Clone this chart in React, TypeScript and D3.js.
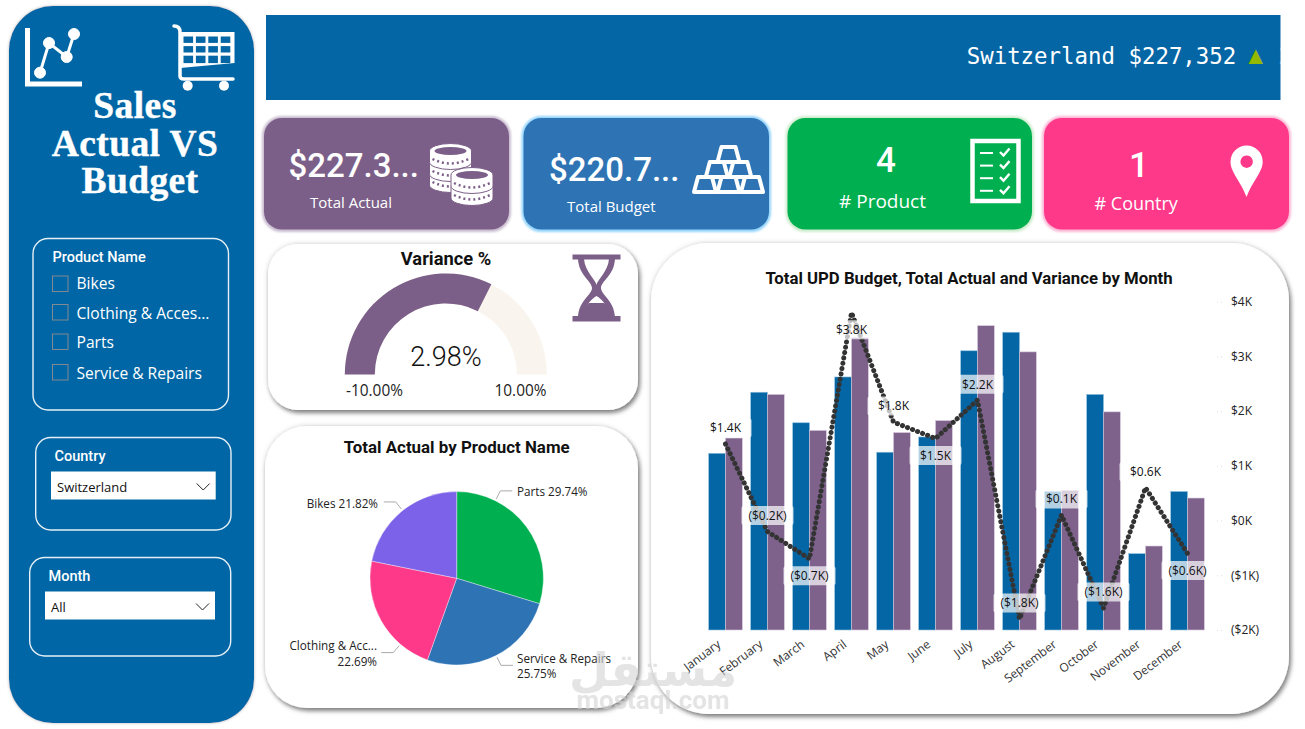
import { useEffect, useRef } from 'react';
import * as d3 from 'd3';

const months = ['January', 'February', 'March', 'April', 'May', 'June', 'July', 'August', 'September', 'October', 'November', 'December'];
// $K
const budgetValues = [16.2, 21.8, 19.0, 23.2, 16.3, 17.7, 25.6, 27.3, 12.7, 21.6, 7.0, 12.7];
const actualValues = [17.6, 21.6, 18.3, 26.8, 18.1, 19.2, 27.9, 25.5, 12.8, 20.0, 7.7, 12.1];
const varianceValues = [1.4, -0.2, -0.7, 3.8, 1.8, 1.5, 2.2, -1.8, 0.1, -1.6, 0.6, -0.6];
const varianceTicks = [-2, -1, 0, 1, 2, 3, 4];
const monthsLabelledBelow = ['March', 'April', 'June', 'December'];

const products = ['Parts', 'Service & Repairs', 'Clothing & Acc...', 'Bikes'];
const productShares = [29.74, 25.75, 22.69, 21.82];
const productColors = ['#00B050', '#2E74B5', '#FE398A', '#7B62E8'];

const sliderProducts = ['Bikes', 'Clothing & Acces...', 'Parts', 'Service & Repairs'];

const variancePct = 2.98;
const gaugeMin = -10;
const gaugeMax = 10;

const BLUE = '#0566A5';
const PURPLE = '#7C5F88';
const din = 'Roboto, sans-serif';
const segoe = "'Open Sans', sans-serif";

const moneyK = (v: number, digits: number) => {
  const s = `$${Math.abs(v).toFixed(digits)}K`;
  return v < 0 ? `(${s})` : s;
};

// where the leader lines leave the pie and where their texts sit
const pieLayout = [
  { angle: 26.5, x: 517, baselines: [496], anchor: 'start', twoLines: false },
  { angle: 153, x: 517, baselines: [663, 678], anchor: 'start', twoLines: true },
  { angle: 220.5, x: 377, baselines: [650, 666], anchor: 'end', twoLines: true },
  { angle: 321.4, x: 378, baselines: [508], anchor: 'end', twoLines: false },
];

const Card = ({ x, w, fill, glow }: { x: number; w: number; fill: string; glow: string }) => (
  <g>
    <rect x={x - 1} y={117} width={w + 2} height={114} rx={19} fill={glow} stroke={glow} strokeWidth={2} filter="url(#glow)" />
    <rect x={x} y={118} width={w} height={111.5} rx={18} fill={fill} />
  </g>
);

const Coin = ({ cx, y, fill, top }: { cx: number; y: number; fill: string; top?: boolean }) => (
  <g>
    <path d={`M${cx - 21},${y} A21,7.5 0 0 1 ${cx + 21},${y} V${y + 11} A21,7.5 0 0 1 ${cx - 21},${y + 11} Z`} fill="#fff" stroke={fill} strokeWidth={1} />
    <path d={`M${cx - 18},${y + 8} Q${cx},${y + 17} ${cx + 18},${y + 8}`} fill="none" stroke={fill} strokeWidth={2.5} strokeDasharray="2 3" />
    {top && <ellipse cx={cx} cy={y} rx={16} ry={4} fill={fill} />}
  </g>
);

const GoldBar = ({ x, y }: { x: number; y: number }) => (
  <path d={`M${x + 4},${y} h14 l4,15 h-22 Z`} fill="#2E74B5" stroke="#fff" strokeWidth={4} strokeLinejoin="round" />
);

const Slicer = ({ x, y, w, h, title, titleX, titleY }: { x: number; y: number; w: number; h: number; title: string; titleX: number; titleY: number }) => (
  <g>
    <rect x={x} y={y} width={w} height={h} rx={15} fill="none" stroke="#fff" strokeWidth={1.4} opacity={0.9} />
    <text x={titleX} y={titleY} fill="#fff" fontFamily={din} fontWeight={500} fontSize={14.5}>{title}</text>
  </g>
);

const Dropdown = ({ x, y, w, value }: { x: number; y: number; w: number; value: string }) => (
  <g>
    <rect x={x} y={y} width={w} height={28} fill="#fff" />
    <text x={x + 6} y={y + 20.5} fontFamily={segoe} fontSize={13} fill="#111">{value}</text>
    <path d={`M${x + w - 19},${y + 12} l6.5,6.5 l6.5,-6.5`} fill="none" stroke="#222" strokeWidth={1} />
  </g>
);

const App = () => {
  const comboRef = useRef<SVGGElement | null>(null);
  const pieRef = useRef<SVGGElement | null>(null);
  const gaugeRef = useRef<SVGGElement | null>(null);

  useEffect(() => {
    if (!comboRef.current) return;
    const g = d3.select(comboRef.current);
    g.selectAll('*').remove();

    const x = d3.scaleBand<string>().domain(months).range([704.5, 1208.5]).paddingInner(0.2).paddingOuter(0.1);
    const xGroup = d3.scaleBand<string>().domain(['budget', 'actual']).range([0, x.bandwidth()]);
    const yBar = d3.scaleLinear().domain([0, 30]).range([630, 302.8]);
    const yVar = d3.scaleLinear().domain([-2, 4]).range([630, 301.7]);
    const cx = (m: string) => (x(m) as number) + x.bandwidth() / 2;

    [{ key: 'budget', vals: budgetValues, color: BLUE, edge: '#8fc0de' }, { key: 'actual', vals: actualValues, color: '#7E628C', edge: '#d5c8dc' }].forEach(s => {
      g.append('g').selectAll('rect')
        .data(s.vals)
        .enter()
        .append('rect')
        .attr('x', (_, i) => (x(months[i]) as number) + (xGroup(s.key) as number))
        .attr('y', d => yBar(d))
        .attr('width', xGroup.bandwidth())
        .attr('height', d => 630 - yBar(d))
        .attr('fill', s.color)
        .attr('stroke', s.edge)
        .attr('stroke-width', 0.6);
    });

    const line = d3.line<number>()
      .x((_, i) => cx(months[i]))
      .y(d => yVar(d));

    g.append('path')
      .datum(varianceValues)
      .attr('fill', 'none')
      .attr('stroke', '#333')
      .attr('stroke-width', 5)
      .attr('stroke-linecap', 'round')
      .attr('stroke-dasharray', '0.1 5.3')
      .attr('d', line);

    // data labels sit over the line, on a washed out plate
    const labels = g.append('g').selectAll('g')
      .data(varianceValues)
      .enter()
      .append('g')
      .attr('transform', (d, i) => {
        const below = monthsLabelledBelow.includes(months[i]);
        return `translate(${cx(months[i])},${yVar(d) + (below ? 17 : -16)})`;
      });

    labels.append('rect')
      .attr('x', -26)
      .attr('y', -9.5)
      .attr('width', 52)
      .attr('height', 19)
      .attr('rx', 2)
      .attr('fill', '#fff')
      .attr('opacity', 0.7);

    labels.append('text')
      .attr('text-anchor', 'middle')
      .attr('dy', '0.36em')
      .style('font-family', segoe)
      .style('font-size', '12px')
      .style('fill', '#111')
      .text(d => moneyK(d, 1));

    const axisR = g.append('g')
      .attr('transform', 'translate(1217,0)')
      .call(d3.axisRight(yVar).tickValues(varianceTicks).tickSize(8).tickPadding(6).tickFormat(d => moneyK(d as number, 0)));
    axisR.select('.domain').remove();
    axisR.selectAll('.tick line').attr('stroke', '#ddd').attr('stroke-dasharray', '1 3');
    axisR.selectAll('text').style('font-family', segoe).style('font-size', '12px').style('fill', '#222');

    const axisB = g.append('g')
      .attr('transform', 'translate(0,630)')
      .call(d3.axisBottom(x).tickSize(0).tickPadding(0));
    axisB.select('.domain').remove();
    axisB.selectAll('text')
      .attr('text-anchor', 'end')
      .attr('transform', 'translate(-4,16) rotate(-37)')
      .attr('y', 0)
      .attr('dy', 0)
      .style('font-family', segoe)
      .style('font-size', '12px')
      .style('fill', '#333');
  }, []);

  useEffect(() => {
    if (!pieRef.current) return;
    const g = d3.select(pieRef.current);
    g.selectAll('*').remove();

    const cx = 456.7;
    const cy = 578.3;
    const R = 86.7;
    const pie = d3.pie<number>().sort(null).value(d => d);
    const arc = d3.arc<d3.PieArcDatum<number>>().innerRadius(0).outerRadius(R);

    g.append('g')
      .attr('transform', `translate(${cx},${cy})`)
      .selectAll('path')
      .data(pie(productShares))
      .enter()
      .append('path')
      .attr('d', arc)
      .attr('fill', (_, i) => productColors[i])
      .attr('stroke', '#fff')
      .attr('stroke-opacity', 0.6)
      .attr('stroke-width', 0.6);

    pieLayout.forEach((l, i) => {
      const a = (l.angle * Math.PI) / 180;
      const [x0, y0] = d3.pointRadial(a, R + 2);
      const [x1, y1] = d3.pointRadial(a, R + 11);
      const dir = l.anchor === 'start' ? 1 : -1;
      g.append('path')
        .attr('d', `M${cx + x0},${cy + y0}L${cx + x1},${cy + y1}h${dir * 12}`)
        .attr('fill', 'none')
        .attr('stroke', '#aaa')
        .attr('stroke-width', 1);

      const pct = `${productShares[i].toFixed(2)}%`;
      const lines = l.twoLines ? [products[i], pct] : [`${products[i]} ${pct}`];
      lines.forEach((t, j) => {
        g.append('text')
          .attr('x', l.x)
          .attr('y', l.baselines[j])
          .attr('text-anchor', l.anchor)
          .style('font-family', segoe)
          .style('font-size', '11.7px')
          .style('fill', '#222')
          .text(t);
      });
    });
  }, []);

  useEffect(() => {
    if (!gaugeRef.current) return;
    const g = d3.select(gaugeRef.current);
    g.selectAll('*').remove();

    const angle = d3.scaleLinear().domain([gaugeMin, gaugeMax]).range([-Math.PI / 2, Math.PI / 2]);
    const arc = d3.arc<{ from: number; to: number }>()
      .innerRadius(71)
      .outerRadius(101)
      .startAngle(d => angle(d.from))
      .endAngle(d => angle(d.to));

    const root = g.append('g').attr('transform', 'translate(445.8,374.5)');
    root.append('path').attr('d', arc({ from: gaugeMin, to: gaugeMax })).attr('fill', '#F9F5EE');
    root.append('path').attr('d', arc({ from: gaugeMin, to: variancePct })).attr('fill', PURPLE);
  }, []);

  return (
    <svg width={1305} height={729} viewBox="0 0 1305 729" style={{ position: 'absolute', left: 0, top: 0, display: 'block', background: '#fff' }}>
      <defs>
        <filter id="panelShadow" x="-10%" y="-10%" width="120%" height="120%">
          <feDropShadow dx={2} dy={3} stdDeviation={2} floodColor="#000" floodOpacity={0.42} />
          <feDropShadow dx={0} dy={0} stdDeviation={2.5} floodColor="#000" floodOpacity={0.2} />
        </filter>
        <filter id="softEdge" x="-5%" y="-5%" width="110%" height="110%">
          <feDropShadow dx={0} dy={0} stdDeviation={1.6} floodColor="#777" floodOpacity={0.55} />
        </filter>
        <filter id="glow" x="-5%" y="-10%" width="110%" height="120%">
          <feGaussianBlur stdDeviation={1.3} />
        </filter>
        <clipPath id="bannerClip">
          <rect x={266} y={15} width={1014.5} height={85} />
        </clipPath>
      </defs>

      {/* side panel */}
      <rect x={9} y={6} width={245} height={717} rx={44} fill={BLUE} filter="url(#softEdge)" />

      <g stroke="#fff" fill="#fff">
        <path d="M27.5,28 V84 H82" fill="none" strokeWidth={5} />
        <path d="M40,72.7 L49,43 L66.7,57 L74,34" fill="none" strokeWidth={3} />
        <circle cx={40} cy={72.7} r={5.5} />
        <circle cx={49} cy={43} r={5.5} />
        <circle cx={66.7} cy={57} r={5.5} />
        <circle cx={74} cy={34} r={5.5} />
      </g>

      <g>
        <path d="M174,26 Q180,26 180,32 V76 Q180,79 184,79 H233" fill="none" stroke="#fff" strokeWidth={3.5} strokeLinecap="round" />
        <path d="M180,32 H234.5 V63 L180,68 Z" fill="#fff" />
        {d3.range(3).map(r => d3.range(4).map(c => (
          <rect key={`${r}-${c}`} x={183.5 + c * 12.4} y={36.5 + r * 9.6} width={9.6} height={r === 2 ? 7.4 : 6.4} fill={BLUE} />
        )))}
        <circle cx={187.7} cy={85.7} r={5} fill="#fff" />
        <circle cx={224} cy={85.7} r={5} fill="#fff" />
      </g>

      <g fill="#fff" stroke="#fff" strokeWidth={0.4} fontFamily="'Liberation Serif', serif" fontWeight={700} fontSize={37.5} letterSpacing={0.4} textAnchor="middle">
        <text x={135} y={117.5}>Sales</text>
        <text x={135} y={156}>Actual VS</text>
        <text x={140} y={193}>Budget</text>
      </g>

      <Slicer x={33} y={238.5} w={195.5} h={171.5} title="Product Name" titleX={52.5} titleY={262} />
      {sliderProducts.map((p, i) => (
        <g key={p}>
          <rect x={52.5} y={[276, 304.5, 334, 364.5][i]} width={15.5} height={15.5} fill="none" stroke="#7f8a92" strokeWidth={1} />
          <text x={76.5} y={[289, 319, 348, 379][i]} fill="#fff" fontFamily={segoe} fontSize={15.6}>{p}</text>
        </g>
      ))}

      <Slicer x={35.7} y={437.5} w={195.3} h={92.5} title="Country" titleX={54.5} titleY={461} />
      <Dropdown x={51} y={471.5} w={164.7} value="Switzerland" />
      <Slicer x={29.7} y={557.5} w={201} h={98.5} title="Month" titleX={48.5} titleY={581} />
      <Dropdown x={45} y={591.5} w={170} value="All" />

      {/* ticker */}
      <rect x={266} y={15} width={1014.5} height={85} fill={BLUE} />
      <g clipPath="url(#bannerClip)" fontFamily="'DejaVu Sans Mono', monospace" fontSize={22.4} fill="#fff">
        <text x={966.7} y={63.5}>Switzerland $227,352</text>
        <text x={1248.5} y={63} fill="#92B800" fontSize={24}>▲</text>
        <text x={1278.5} y={63.5}>2</text>
      </g>

      {/* cards */}
      <Card x={264} w={245} fill={PURPLE} glow="#c9bcd0" />
      <Card x={523.5} w={245.5} fill="#2E74B5" glow="#92d3fb" />
      <Card x={787.5} w={244.5} fill="#00B050" glow="#cdeccd" />
      <Card x={1044} w={245} fill="#FE398A" glow="#fcb5d4" />

      <g fill="#fff">
        <text x={288.5} y={176.5} fontFamily={din} fontWeight={500} fontSize={33} >$227.3...</text>
        <text x={310} y={207.5} fontFamily={segoe} fontSize={15}>Total Actual</text>
        <text x={549} y={181} fontFamily={din} fontWeight={500} fontSize={33}>$220.7...</text>
        <text x={567} y={211.5} fontFamily={segoe} fontSize={15}>Total Budget</text>
        <text x={886} y={172} fontFamily={din} fontWeight={500} fontSize={35} textAnchor="middle">4</text>
        <text x={839} y={207.5} fontFamily={segoe} fontSize={19}>{'# Product'}</text>
        <text x={1139} y={176.5} fontFamily={din} fontWeight={500} fontSize={35} textAnchor="middle">1</text>
        <text x={1094.5} y={210} fontFamily={segoe} fontSize={18}>{'# Country'}</text>
      </g>

      <g>
        <Coin cx={450.5} y={174} fill={PURPLE} />
        <Coin cx={450.5} y={163} fill={PURPLE} />
        <Coin cx={450.5} y={151} fill={PURPLE} top />
        <Coin cx={472} y={187} fill={PURPLE} />
        <Coin cx={472} y={175} fill={PURPLE} top />
      </g>

      <g>
        {d3.range(3).map(c => <GoldBar key={`b${c}`} x={694 + c * 23.5} y={177} />)}
        {d3.range(2).map(c => <GoldBar key={`m${c}`} x={705.8 + c * 23.5} y={162} />)}
        <GoldBar x={717.5} y={147} />
      </g>

      <g>
        <rect x={972.5} y={141} width={46} height={60} fill="none" stroke="#fff" strokeWidth={4.5} />
        {d3.range(4).map(i => (
          <g key={i} fill="none" stroke="#fff">
            <path d={`M980,${153 + i * 12.6} h13`} strokeWidth={2} />
            <path d={`M1000,${152 + i * 12.6} l3.5,3.5 l6,-7`} strokeWidth={2.4} />
          </g>
        ))}
      </g>

      <path d="M1246.6,197 C1240,180 1230.5,172 1230.5,161.7 A16,16 0 0 1 1262.7,161.7 C1262.7,172 1253,180 1246.6,197 Z M1246.6,155.5 A6.2,6.2 0 1 0 1246.7,155.5 Z" fill="#fff" fillRule="evenodd" />

      {/* variance gauge */}
      <rect x={268} y={244} width={370} height={166} rx={30} fill="#fff" filter="url(#panelShadow)" />
      <text x={446} y={265} textAnchor="middle" fontFamily={din} fontWeight={700} fontSize={18.3} fill="#111">Variance %</text>
      <g ref={gaugeRef} />
      <text x={446} y={366} textAnchor="middle" fontFamily={din} fontWeight={300} fontSize={27} fill="#111">{variancePct.toFixed(2)}%</text>
      <text x={346} y={396} fontFamily={segoe} fontSize={15.4} fill="#222">{gaugeMin.toFixed(2)}%</text>
      <text x={546.5} y={396} textAnchor="end" fontFamily={segoe} fontSize={15.4} fill="#222">{gaugeMax.toFixed(2)}%</text>

      <g fill={PURPLE}>
        <rect x={572.5} y={254.5} width={48} height={5} />
        <rect x={572.5} y={316} width={48} height={5.5} />
        <path d="M578,259 C579,276 592,281 592,288 C592,295 579,300 578,317 H584 C585,306 590,300 596.5,296 C603,300 608,306 609,317 H615 C614,300 601,295 601,288 C601,281 614,276 615,259 H609 C608,272 597,280 596.5,285 C596,280 585,272 584,259 Z" />
        <path d="M580,317 C582,310 586,306 589,303 H604 C607,306 611,310 613,317 Z" />
      </g>

      {/* pie */}
      <rect x={265} y={426} width={373} height={282} rx={42} fill="#fff" filter="url(#panelShadow)" />
      <text x={456.7} y={453} textAnchor="middle" fontFamily={din} fontWeight={700} fontSize={16.9} fill="#111">Total Actual by Product Name</text>
      <g ref={pieRef} />

      {/* combo chart */}
      <rect x={651} y={243} width={638} height={471} rx={58} fill="#fff" filter="url(#panelShadow)" />
      <text x={969} y={284} textAnchor="middle" fontFamily={din} fontWeight={700} fontSize={16.75} fill="#111">Total UPD Budget, Total Actual and Variance by Month</text>
      <g ref={comboRef} />

      {/* site stamp over the picture */}
      <g fill="#d4d4d4" opacity={0.62} textAnchor="middle" fontWeight={700}>
        <text x={653} y={686} fontSize={46} fontFamily="'DejaVu Sans', sans-serif">مستقل</text>
        <text x={653} y={709} fontSize={26} fontFamily={din}>mostaql.com</text>
      </g>
    </svg>
  );
};

export default App;
